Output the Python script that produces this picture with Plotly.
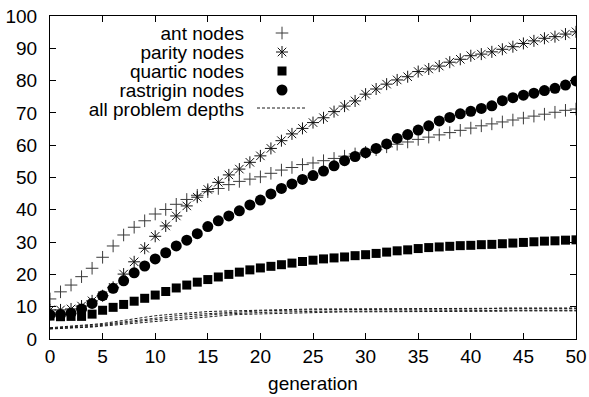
import plotly.graph_objects as go

# generation index
generation = list(range(51))

# mean node counts per generation
ant_nodes = [12.4, 14.6, 16.7, 19.3, 21.9, 25.3, 28.8, 32.2, 34.6, 36.6,
             38.7, 40.1, 41.7, 43.2, 44.5, 45.6, 46.6, 47.8, 48.8, 49.5,
             50.2, 51.3, 52.3, 53.1, 54.0, 54.5, 55.2, 55.9, 56.6, 57.3,
             57.8, 58.6, 59.5, 60.3, 61.0, 61.8, 62.5, 63.2, 63.9, 64.6,
             65.3, 66.0, 66.6, 67.2, 67.8, 68.4, 69.0, 69.6, 70.2, 70.8, 71.2]
parity_nodes = [9.0, 9.0, 9.3, 10.2, 11.8, 13.4, 16.0, 20.1, 23.9, 28.1,
                31.8, 35.0, 38.1, 41.2, 43.9, 46.3, 48.5, 50.8, 52.6, 54.7,
                56.7, 59.0, 61.4, 63.5, 65.2, 67.0, 68.5, 70.4, 72.1, 73.7,
                75.8, 77.4, 78.9, 80.2, 81.2, 82.8, 83.6, 84.5, 85.7, 86.6,
                87.7, 88.2, 88.9, 89.7, 90.5, 91.5, 92.3, 93.1, 93.6, 94.4, 95.1]
quartic_nodes = [7.1, 6.9, 7.0, 7.0, 7.7, 8.9, 9.8, 10.7, 11.7, 12.6,
                 13.6, 14.7, 15.8, 16.7, 17.6, 18.4, 19.2, 20.0, 20.7, 21.4,
                 22.0, 22.5, 23.0, 23.5, 24.0, 24.4, 24.8, 25.1, 25.4, 25.8,
                 26.1, 26.5, 26.9, 27.3, 27.6, 28.0, 28.3, 28.5, 28.7, 28.9,
                 29.0, 29.2, 29.3, 29.5, 29.7, 29.9, 30.1, 30.3, 30.4, 30.6, 30.7]
rastrigin_nodes = [7.5, 7.6, 8.0, 9.3, 11.0, 13.4, 15.7, 18.0, 20.5, 22.6,
                   24.8, 26.7, 28.8, 30.6, 32.6, 34.8, 36.6, 38.1, 39.7, 41.5,
                   43.0, 44.9, 46.6, 48.0, 49.4, 50.6, 52.0, 53.6, 55.2, 56.5,
                   57.7, 59.0, 60.4, 62.1, 63.3, 64.7, 66.0, 67.5, 68.6, 69.7,
                   70.5, 71.4, 72.2, 73.8, 74.7, 75.5, 76.1, 76.9, 77.6, 78.6, 79.9]

# mean tree depth per generation, one series per problem
depth_a = [3.5, 3.7, 3.9, 4.2, 4.5, 4.8, 5.3, 5.8, 6.3, 6.8,
           7.2, 7.5, 7.8, 8.1, 8.3, 8.5, 8.6, 8.7, 8.8, 8.9,
           9.0, 9.1, 9.1, 9.2, 9.2, 9.3, 9.3, 9.3, 9.4, 9.4,
           9.4, 9.4, 9.4, 9.5, 9.5, 9.5, 9.5, 9.5, 9.5, 9.5,
           9.5, 9.5, 9.5, 9.6, 9.6, 9.6, 9.6, 9.6, 9.6, 9.6, 9.6]
depth_b = [3.3, 3.5, 3.7, 3.9, 4.2, 4.5, 4.9, 5.3, 5.8, 6.2,
           6.6, 6.9, 7.2, 7.5, 7.7, 7.9, 8.1, 8.3, 8.4, 8.6,
           8.7, 8.8, 8.9, 8.9, 9.0, 9.0, 9.1, 9.1, 9.1, 9.2,
           9.2, 9.2, 9.2, 9.2, 9.3, 9.3, 9.3, 9.3, 9.3, 9.3,
           9.3, 9.3, 9.4, 9.4, 9.4, 9.4, 9.4, 9.4, 9.4, 9.4, 9.4]
depth_c = [3.2, 3.3, 3.5, 3.7, 3.9, 4.2, 4.5, 4.9, 5.3, 5.7,
           6.0, 6.4, 6.7, 7.0, 7.3, 7.5, 7.7, 7.8, 8.0, 8.1,
           8.2, 8.3, 8.4, 8.4, 8.5, 8.5, 8.6, 8.6, 8.6, 8.7,
           8.7, 8.7, 8.7, 8.7, 8.8, 8.8, 8.8, 8.8, 8.8, 8.8,
           8.8, 8.8, 8.8, 8.9, 8.9, 8.9, 8.9, 8.9, 8.9, 8.9, 8.9]
depth_d = [3.1, 3.2, 3.3, 3.5, 3.7, 4.0, 4.3, 4.6, 4.9, 5.2,
           5.5, 5.8, 6.1, 6.4, 6.7, 7.0, 7.2, 7.4, 7.6, 7.7,
           7.8, 7.9, 8.0, 8.1, 8.2, 8.2, 8.3, 8.3, 8.4, 8.4,
           8.4, 8.4, 8.5, 8.5, 8.5, 8.5, 8.5, 8.6, 8.6, 8.6,
           8.6, 8.6, 8.6, 8.6, 8.7, 8.7, 8.7, 8.7, 8.7, 8.7, 8.7]

x_ticks = [0, 5, 10, 15, 20, 25, 30, 35, 40, 45, 50]
y_ticks = [0, 10, 20, 30, 40, 50, 60, 70, 80, 90, 100]

legend_labels = ["ant nodes", "parity nodes", "quartic nodes",
                 "rastrigin nodes", "all problem depths"]

FONT = "Liberation Sans, Arial, Helvetica, sans-serif"
W, H = 589, 397
L, R, T, B = 50, 13, 16, 58

marker_styles = [
    dict(symbol="cross-thin", size=9, color="#3a3a3a",
         line=dict(width=1, color="#3a3a3a")),
    dict(symbol="asterisk", size=10, color="#111111",
         line=dict(width=1, color="#111111")),
    dict(symbol="square", size=9, color="black", line=dict(width=0)),
    dict(symbol="circle", size=11, color="black", line=dict(width=0)),
]
dash_line = dict(color="#1a1a1a", width=1, dash="3px,2px")

fig = go.Figure()

series = [ant_nodes, parity_nodes, quartic_nodes, rastrigin_nodes]
for vals, style in zip(series, marker_styles):
    fig.add_trace(go.Scatter(x=generation, y=vals, mode="markers",
                             marker=style, showlegend=False,
                             hoverinfo="skip"))

for vals in [depth_a, depth_b, depth_c, depth_d]:
    fig.add_trace(go.Scatter(x=generation, y=vals, mode="lines",
                             line=dash_line, showlegend=False,
                             hoverinfo="skip"))

# key: labels right-aligned, sample to the right (page-pixel overlay axes)
key_text_right = 244
key_sample_x = 282
key_row_y = [33, 52, 71, 90, 109]
fig.add_trace(go.Scatter(x=[key_text_right] * len(legend_labels),
                         y=[v + 2 for v in key_row_y], xaxis="x2", yaxis="y2",
                         mode="text", text=legend_labels,
                         textposition="middle left",
                         textfont=dict(family=FONT, size=19, color="black"),
                         showlegend=False, hoverinfo="skip"))
for i, style in enumerate(marker_styles):
    fig.add_trace(go.Scatter(x=[key_sample_x], y=[key_row_y[i]],
                             xaxis="x2", yaxis="y2", mode="markers",
                             marker=style, showlegend=False,
                             hoverinfo="skip"))
fig.add_trace(go.Scatter(x=[257, 307], y=[key_row_y[4] - 1, key_row_y[4] - 1],
                         xaxis="x2", yaxis="y2", mode="lines",
                         line=dash_line, showlegend=False, hoverinfo="skip"))

axis_common = dict(showline=True, linecolor="black", linewidth=1,
                   mirror="allticks", ticks="inside", ticklen=6,
                   tickcolor="black", tickwidth=1, showgrid=False,
                   zeroline=False, automargin=False,
                   tickfont=dict(family=FONT, size=19, color="black"))

fig.update_layout(
    width=W, height=H,
    margin=dict(l=L, r=R, t=T, b=B, pad=0),
    paper_bgcolor="white", plot_bgcolor="white",
    font=dict(family=FONT, size=19, color="black"),
    xaxis=dict(range=[0, 50], tickvals=x_ticks, ticklabelstandoff=0,
               title=dict(text="generation", standoff=10,
                          font=dict(family=FONT, size=19)),
               **axis_common),
    yaxis=dict(range=[0, 100], tickvals=y_ticks, ticklabelstandoff=8,
               **axis_common),
    xaxis2=dict(overlaying="x", range=[L, W - R], visible=False,
                fixedrange=True),
    yaxis2=dict(overlaying="y", range=[H - B, T], visible=False,
                fixedrange=True),
)

fig.write_html("out.html")
